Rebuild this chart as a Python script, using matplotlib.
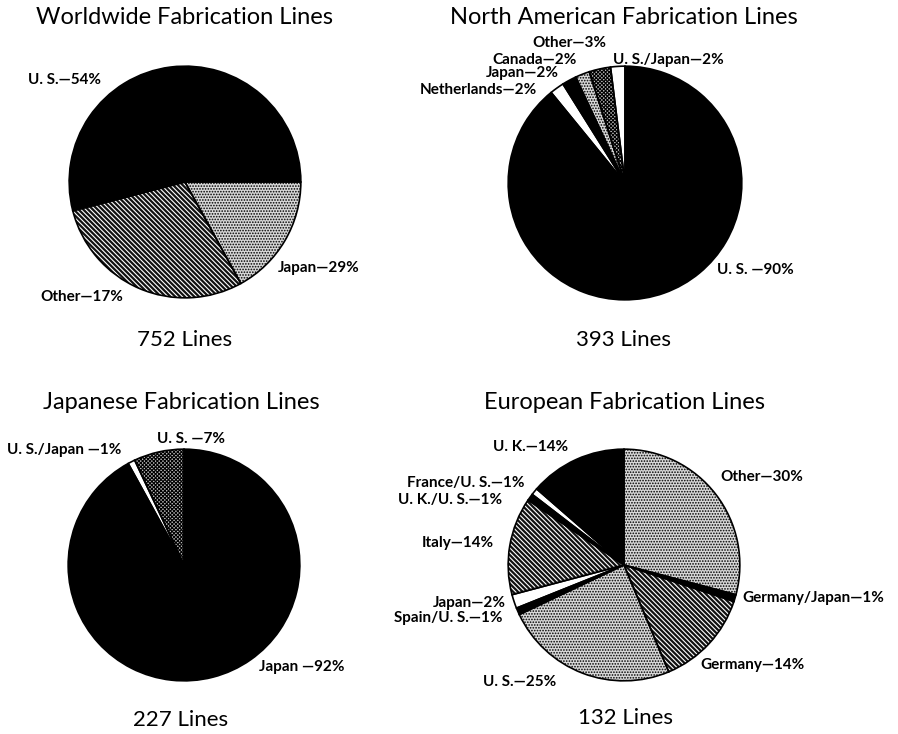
import matplotlib
matplotlib.use("Agg")
import matplotlib.pyplot as plt

W, H = 898, 734

plt.rcParams.update({
    "font.family": ["Lato", "DejaVu Sans"],
    "hatch.linewidth": 0.8,
})

# shading styles: face colour, hatch pattern, hatch colour
FILL = {
    "black": ("black", None, "black"),
    "white": ("white", None, "black"),
    "diag": ("#111111", "\\" * 7, "white"),
    "dots": ("#d8d8d8", "." * 6, "black"),
    "cross": ("#bbbbbb", "x" * 9, "black"),
}

# ---- data ----
ww_names = ["U. S.", "Japan", "Other"]
ww_share = [54, 29, 17]
ww_fill = ["black", "diag", "dots"]
ww_total = 752

na_names = ["U. S. ", "Netherlands", "Japan", "Canada", "Other", "U. S./Japan"]
na_share = [90, 2, 2, 2, 3, 2]
na_fill = ["black", "white", "black", "dots", "cross", "white"]
na_total = 393

jp_names = ["U. S. ", "U. S./Japan ", "Japan "]
jp_share = [7, 1, 92]
jp_fill = ["cross", "white", "black"]
jp_total = 227

eu_names = ["Other", "Germany/Japan", "Germany", "U. S.", "Spain/U. S.",
            "Japan", "Italy", "U. K./U. S.", "France/U. S.", "U. K."]
eu_share = [30, 1, 14, 25, 1, 2, 14, 1, 1, 14]
eu_fill = ["dots", "black", "diag", "dots", "black",
           "white", "diag", "black", "white", "black"]
eu_total = 132

# ---- layout (pixels): pie centre/radius, label anchors (left x, centre y) ----
panels = [
    dict(title="Worldwide Fabrication Lines", names=ww_names, share=ww_share,
         fill=ww_fill, total=ww_total, centre=(185, 182), r=117,
         start=0, ccw=True, tx=185, ty=18, fy=340,
         labels=[(28, 80), (278, 268), (40, 297)]),
    dict(title="North American Fabrication Lines", names=na_names, share=na_share,
         fill=na_fill, total=na_total, centre=(625, 183), r=118,
         start=90, ccw=False, tx=624, ty=18, fy=340,
         labels=[(717, 270), (420, 90), (486, 73), (492, 60), (532, 43), (613, 60)]),
    dict(title="Japanese Fabrication Lines", names=jp_names, share=jp_share,
         fill=jp_fill, total=jp_total, centre=(184, 565), r=117,
         start=90, ccw=True, tx=181, ty=403, fy=720,
         labels=[(157, 439), (7, 450), (259, 667)]),
    dict(title="European Fabrication Lines", names=eu_names, share=eu_share,
         fill=eu_fill, total=eu_total, centre=(624, 565), r=117,
         start=90, ccw=False, tx=625, ty=403, fy=718,
         labels=[(720, 477), (742, 598), (700, 665), (483, 682), (394, 618),
                 (433, 603), (422, 543), (398, 500), (407, 483), (493, 447)]),
]

fig = plt.figure(figsize=(W / 100, H / 100), dpi=100)


def fx(x):
    return x / W


def fy_(y):
    return 1 - y / H


for p in panels:
    cx, cy = p["centre"]
    r = p["r"]
    ax = fig.add_axes([fx(cx - r), fy_(cy + r), 2 * r / W, 2 * r / H])
    wedges, _ = ax.pie(p["share"], startangle=p["start"], counterclock=p["ccw"],
                       wedgeprops=dict(linewidth=0))
    for w, f in zip(wedges, p["fill"]):
        face, hatch, hcol = FILL[f]
        w.set_facecolor(face)
        w.set_edgecolor(hcol)
        w.set_hatch(hatch)
    # outlines on top of the shading
    ax.pie(p["share"], startangle=p["start"], counterclock=p["ccw"],
           wedgeprops=dict(fill=False, edgecolor="black", linewidth=1.2))
    ax.set_xlim(-1.01, 1.01)
    ax.set_ylim(-1.01, 1.01)
    ax.axis("off")

    for name, v, (lx, ly) in zip(p["names"], p["share"], p["labels"]):
        fig.text(fx(lx), fy_(ly), f"{name}\u2014{v}%", ha="left", va="center",
                 fontsize=11, fontweight="bold")

    fig.text(fx(p["tx"]), fy_(p["ty"]), p["title"], ha="center", va="center",
             fontsize=17)
    fig.text(fx(p["tx"]), fy_(p["fy"]), f"{p['total']} Lines", ha="center",
             va="center", fontsize=16)

fig.savefig("out.png", dpi=100)
